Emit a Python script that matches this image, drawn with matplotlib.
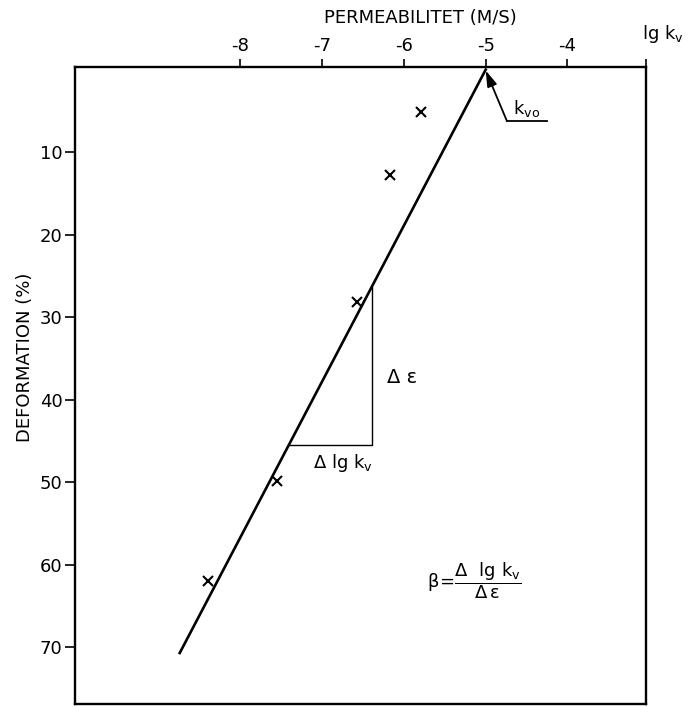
import numpy as np
import matplotlib
matplotlib.use('Agg')
import matplotlib.pyplot as plt

plt.rcParams['font.family'] = ['DejaVu Sans']
plt.rcParams['mathtext.fontset'] = 'dejavusans'
plt.rcParams['axes.unicode_minus'] = False

# measured points (lg kv, deformation %)
lgk_points = [-5.79, -6.17, -6.57, -7.55, -8.40]
deform_points = [5.1, 12.8, 28.2, 49.9, 62.0]

# fitted line
line_lgk = [-5.0, -8.74]
line_deform = [0.0, 70.7]

# slope triangle
tri_lgk = [-6.39, -6.39, -7.41]
tri_deform = [26.3, 45.5, 45.5]

x_ticks = [-8, -7, -6, -5, -4]
y_ticks = [10, 20, 30, 40, 50, 60, 70]

fig = plt.figure(figsize=(6.88, 7.07), dpi=100)
ax = fig.add_axes([0.109, 0.004, 0.830, 0.901])

ax.plot(line_lgk, line_deform, color='black', lw=1.9)
ax.plot(tri_lgk, tri_deform, color='black', lw=1.0)
ax.plot(lgk_points, deform_points, 'x', color='black', ms=7, mew=1.5)

ax.set_xlim(-10.02, -3.04)
ax.set_ylim(76.9, -0.3)

ax.xaxis.tick_top()
ax.set_xticks(x_ticks + [-3.04])
ax.set_xticklabels([str(t) for t in x_ticks] + [''])
ax.tick_params(axis='x', direction='out', length=6, width=1.2, labelsize=13, pad=3)
ax.set_yticks(y_ticks)
ax.tick_params(axis='y', direction='out', length=7, width=1.2, labelsize=13, pad=2)
for s in ax.spines.values():
    s.set_linewidth(1.7)

ax.text(0.604, 1.077, 'PERMEABILITET (M/S)', transform=ax.transAxes,
        ha='center', va='center', fontsize=13)
ax.text(-0.088, 0.545, 'DEFORMATION (%)', transform=ax.transAxes,
        ha='center', va='center', rotation=90, fontsize=13)
ax.text(0.993, 1.035, r'lg k$_\mathregular{v}$', transform=ax.transAxes,
        ha='left', va='bottom', fontsize=13)

# k_vo pointer
ax.annotate('', xy=(-5.0, 0.1), xytext=(-4.74, 6.24),
            arrowprops=dict(arrowstyle='-|>,head_length=0.8,head_width=0.25',
                            color='black', lw=1.3,
                            mutation_scale=12, shrinkA=0, shrinkB=0))
ax.plot([-4.74, -4.25], [6.24, 6.24], color='black', lw=1.3)
ax.text(-4.67, 6.0, r'k$_\mathregular{vo}$', ha='left', va='bottom', fontsize=13)

ax.text(-6.21, 37.3, 'Δ ε', ha='left', va='center', fontsize=14)
ax.text(-6.75, 47.7, r'Δ lg k$_\mathregular{v}$', ha='center', va='center', fontsize=13)
ax.text(-5.72, 61.9, r'$\mathregular{β\!=\!\dfrac{Δ\ \ lg\ k_v}{Δ\,ε}}$',
        ha='left', va='center', fontsize=13)

fig.savefig('out.png', dpi=100)
